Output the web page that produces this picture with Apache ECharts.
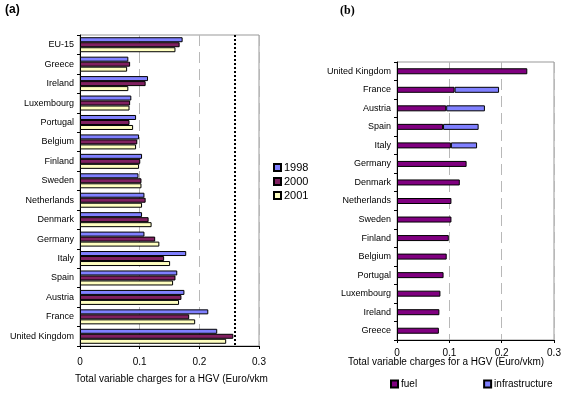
<!DOCTYPE html>
<html>
<head>
<meta charset="utf-8">
<script src="https://cdn.jsdelivr.net/npm/echarts@6/dist/echarts.min.js"></script>
<style>html,body{margin:0;padding:0;background:#fff}#c{width:565px;height:396px}</style>
</head>
<body>
<div id="c"></div>
<script>
// Panel (a)
var countriesA = ['EU-15','Greece','Ireland','Luxembourg','Portugal','Belgium','Finland','Sweden','Netherlands','Denmark','Germany','Italy','Spain','Austria','France','United Kingdom'];
var y1998 = [0.172,0.081,0.114,0.086,0.094,0.099,0.104,0.098,0.108,0.104,0.108,0.178,0.163,0.175,0.215,0.230];
var y2000 = [0.167,0.084,0.110,0.084,0.083,0.096,0.101,0.103,0.110,0.115,0.126,0.141,0.160,0.170,0.183,0.257];
var y2001 = [0.160,0.079,0.081,0.083,0.089,0.094,0.099,0.103,0.104,0.120,0.133,0.151,0.156,0.166,0.193,0.245];
var refLine = 0.26;

// Panel (b)
var countriesB = ['United Kingdom','France','Austria','Spain','Italy','Germany','Denmark','Netherlands','Sweden','Finland','Belgium','Portugal','Luxembourg','Ireland','Greece'];
var fuel = [0.249,0.110,0.094,0.088,0.103,0.133,0.120,0.104,0.104,0.099,0.095,0.089,0.083,0.081,0.080];
var infrastructure = [null,0.085,0.074,0.068,0.050,null,null,null,null,null,null,null,null,null,null];

var FONT = 'Liberation Sans, Arial, sans-serif';
var chart = echarts.init(document.getElementById('c'), null, {renderer:'canvas'});

function valueAxis(gi, margin){
  return {
    type:'value', gridIndex:gi, min:0, max:0.3, interval:0.1,
    axisLine:{show:true, lineStyle:{color:'#000', width:1}},
    axisTick:{show:true, length:3, lineStyle:{color:'#000'}},
    axisLabel:{color:'#000', fontFamily:FONT, fontSize:10, margin:margin,
      formatter:function(v){return v===0?'0':String(Math.round(v*10)/10);}},
    splitLine:{show:true, lineStyle:{color:'#b8b8b8', type:[11,6], width:1}}
  };
}
function catAxis(gi, data){
  return {
    type:'category', gridIndex:gi, data:data, inverse:true,
    axisLine:{show:true, lineStyle:{color:'#000'}},
    axisTick:{show:true, length:3, lineStyle:{color:'#000'}},
    axisLabel:{color:'#000', fontFamily:FONT, fontSize:9, margin:6}
  };
}
var bord = {borderColor:'#000', borderWidth:1};

chart.setOption({
  animation:false,
  textStyle:{fontFamily:FONT},
  grid:[
    {left:80, top:35, width:179, height:311, show:true, borderColor:'#999', borderWidth:1, backgroundColor:'transparent'},
    {left:397, top:62, width:157, height:278, show:true, borderColor:'#999', borderWidth:1, backgroundColor:'transparent'}
  ],
  xAxis:[valueAxis(0, 11), valueAxis(1, 8)],
  yAxis:[catAxis(0, countriesA), catAxis(1, countriesB)],
  legend:[
    {orient:'vertical', left:268, top:157, itemWidth:7, itemHeight:7, itemGap:3,
      icon:'rect', textStyle:{fontFamily:FONT, fontSize:11, color:'#000', padding:[0,0,0,-2]},
      data:['1998','2000','2001']},
    {orient:'horizontal', left:385, top:374, itemWidth:7, itemHeight:7, itemGap:66,
      icon:'rect', textStyle:{fontFamily:FONT, fontSize:10, color:'#000', padding:[0,0,0,-2]},
      data:['fuel','infrastructure']}
  ],
  series:[
    {name:'1998', type:'bar', xAxisIndex:0, yAxisIndex:0, data:y1998, barWidth:5, barGap:'0%',
      itemStyle:Object.assign({color:'#8080ff'}, bord),
      markLine:{silent:true, symbol:['none','none'], label:{show:false},
        lineStyle:{color:'#000', type:[2,2], width:2}, data:[{xAxis:refLine}]}},
    {name:'2000', type:'bar', xAxisIndex:0, yAxisIndex:0, data:y2000, barWidth:5, barGap:'0%',
      itemStyle:Object.assign({color:'#802060'}, bord)},
    {name:'2001', type:'bar', xAxisIndex:0, yAxisIndex:0, data:y2001, barWidth:5, barGap:'0%',
      itemStyle:Object.assign({color:'#ffffc0'}, bord)},
    {name:'fuel', type:'bar', stack:'b', xAxisIndex:1, yAxisIndex:1, data:fuel, barWidth:6,
      itemStyle:Object.assign({color:'#800080'}, bord)},
    {name:'infrastructure', type:'bar', stack:'b', xAxisIndex:1, yAxisIndex:1, data:infrastructure, barWidth:6,
      itemStyle:Object.assign({color:'#8080ff'}, bord)}
  ],
  graphic:[
    {type:'text', left:5, top:4, style:{text:'(a)', font:'bold 12px '+FONT, fill:'#000'}},
    {type:'text', left:340, top:5, style:{text:'(b)', font:'bold 12px "Liberation Serif", "Times New Roman", serif', fill:'#000'}},
    {type:'text', left:75, top:374, style:{text:'Total variable charges for a HGV (Euro/vkm', font:'10px '+FONT, fill:'#000'}},
    {type:'text', left:348, top:357, style:{text:'Total variable charges for a HGV (Euro/vkm)', font:'10px '+FONT, fill:'#000'}}
  ]
});
</script>
</body>
</html>
